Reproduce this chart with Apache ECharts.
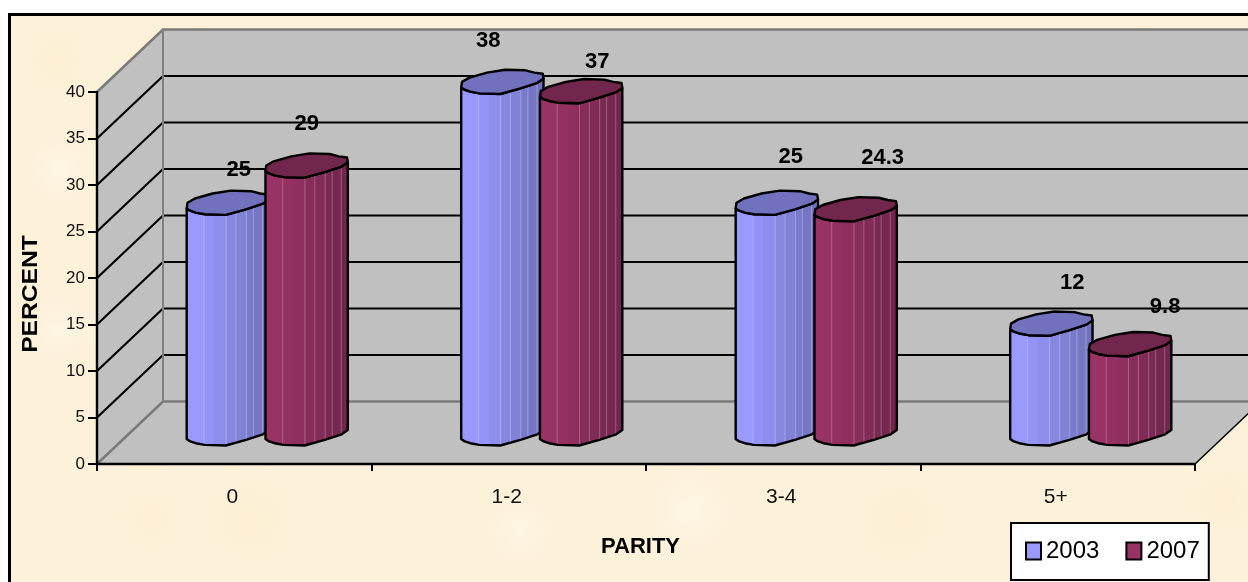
<!DOCTYPE html>
<html>
<head>
<meta charset="utf-8">
<style>html,body{margin:0;padding:0;background:#fff;overflow:hidden}#c{width:1248px;height:582px}</style>
<script src="https://cdn.jsdelivr.net/npm/echarts@6/dist/echarts.min.js"></script>
</head>
<body>
<div id="c"></div>
<script>
const categories = ['0', '1-2', '3-4', '5+'];
const seriesNames = ['2003', '2007'];
const values2003 = [25, 38, 25, 12];
const values2007 = [29, 37, 24.3, 9.8];
// Hand-placed data label nudges of the reference, relative to each cap centre
const labelNudge2003 = [[11, -33], [-14, -41], [14, -46], [21, -41]];
const labelNudge2007 = [[0, -42], [16, -29], [27, -51], [35, -37]];
const valueTicks = [0, 5, 10, 15, 20, 25, 30, 35, 40];
const FONT = '"Liberation Sans", Arial, sans-serif';
const DEPTH_X = 66, DEPTH_Y = -62.5;

// Cylinder cap outline, normalised to radius; clockwise from the left-most point
const capShape = [[-1, .46], [-.98, 0], [-.8, -.35], [-.37, -.76], [.07, -1], [.56, -.95], [.78, -.76], [.98, -.67],
  [1, -.27], [.85, .08], [.44, .54], [-.05, 1], [-.56, .95], [-.78, .81], [-.93, .63]];
const lowerIdx = [8, 9, 10, 11, 12, 13, 14, 0];
const facetEdges = [0, .21, .34, .48, .6, .725, .81, .92, 1];
const facetShade = [1, .965, .93, .885, .84, .80, .77, .74];
const sheenAt = [.21, .48, .6, .725, .81, .92];

const colors = [[153, 153, 255], [153, 51, 102]];
const rgb = (c, k) => `rgb(${Math.round(c[0] * k)},${Math.round(c[1] * k)},${Math.round(c[2] * k)})`;

function facetFill(base) {
  const stops = [];
  facetShade.forEach((k, i) => {
    stops.push({ offset: facetEdges[i], color: rgb(base, k) });
    stops.push({ offset: facetEdges[i + 1], color: rgb(base, k) });
  });
  return new echarts.graphic.LinearGradient(0, 0, 1, 0, stops);
}

function cylinderSeries(si, values, nudges) {
  return {
    name: seriesNames[si],
    type: 'custom',
    z: 5,
    clip: false,
    itemStyle: { color: rgb(colors[si], 1), borderColor: '#000', borderWidth: 2 },
    encode: { x: 0, y: 1 },
    data: values.map((v, i) => [i, v]),
    renderItem(params, api) {
      const cat = api.value(0), v = api.value(1);
      const band = api.size([1, 0])[0];
      const rx = band * 0.15, ry = rx * 0.295;
      const shift = (si === 0 ? -1 : 1) * band * 0.1435;
      const base = api.coord([cat, 0]);
      const top = api.coord([cat, v]);
      const cx = base[0] + DEPTH_X * 0.5 + shift;
      const by = base[1] + DEPTH_Y * 0.49;
      const ty = top[1] + DEPTH_Y * 0.46;
      const pts = (y, idx) => idx.map(i => [cx + capShape[i][0] * rx, y + capShape[i][1] * ry]);
      const lower = (y) => pts(y, lowerIdx);
      const body = lower(ty).concat(lower(by).reverse());
      const cap = pts(ty, capShape.map((_, i) => i));
      const lowerAt = (x, y) => {
        const p = lower(y);
        for (let i = 0; i < p.length - 1; i++) {
          const a = p[i], b = p[i + 1];
          if (x <= a[0] && x >= b[0]) return a[1] + (b[1] - a[1]) * (a[0] - x) / (a[0] - b[0] || 1);
        }
        return y;
      };
      const children = [{
        type: 'polygon', shape: { points: body },
        style: { fill: facetFill(colors[si]), stroke: '#000', lineWidth: 2.4, lineJoin: 'round' }
      }];
      sheenAt.forEach(f => {
        const x = cx - rx + 2 * rx * f;
        children.push({
          type: 'line',
          shape: { x1: x, y1: lowerAt(x, ty) + 1, x2: x, y2: lowerAt(x, by) - 1 },
          style: { stroke: 'rgba(255,255,255,0.25)', lineWidth: 1 }
        });
      });
      children.push({
        type: 'polygon', shape: { points: cap },
        style: { fill: rgb(colors[si], 0.74), stroke: '#000', lineWidth: 2.4, lineJoin: 'round' }
      });
      const n = nudges[cat];
      children.push({
        type: 'text', z2: 20,
        style: {
          text: String(v), x: cx + n[0], y: ty + n[1], align: 'center', verticalAlign: 'middle',
          font: 'bold 22px ' + FONT, fill: '#000'
        }
      });
      return { type: 'group', children };
    }
  };
}

const wallSeries = {
  type: 'custom',
  z: 1,
  silent: true,
  clip: false,
  legendHoverLink: false,
  data: [[0, 0]],
  encode: { x: 0, y: 1 },
  renderItem(params, api) {
    const cs = params.coordSys;
    const x0 = cs.x, x1 = cs.x + cs.width;
    const y0 = api.coord([0, 0])[1];
    const yT = api.coord([0, valueTicks[valueTicks.length - 1]])[1];
    const wall = '#C0C0C0', edge = '#808080';
    const children = [
      { type: 'polygon', shape: { points: [[x0 + DEPTH_X, yT + DEPTH_Y], [x1 + DEPTH_X, yT + DEPTH_Y], [x1 + DEPTH_X, y0 + DEPTH_Y], [x0 + DEPTH_X, y0 + DEPTH_Y]] }, style: { fill: wall } },
      { type: 'polygon', shape: { points: [[x0, y0], [x1, y0], [x1 + DEPTH_X, y0 + DEPTH_Y], [x0 + DEPTH_X, y0 + DEPTH_Y]] }, style: { fill: wall } },
      { type: 'polygon', shape: { points: [[x0, y0], [x0 + DEPTH_X, y0 + DEPTH_Y], [x0 + DEPTH_X, yT + DEPTH_Y], [x0, yT]] }, style: { fill: wall } }
    ];
    valueTicks.forEach(t => {
      const y = api.coord([0, t])[1];
      const limit = t === 0 || t === valueTicks[valueTicks.length - 1];
      children.push({
        type: 'polyline',
        shape: { points: [[x0, y], [x0 + DEPTH_X, y + DEPTH_Y], [x1 + DEPTH_X, y + DEPTH_Y]] },
        style: { stroke: limit ? '#7a7a7a' : '#000', lineWidth: limit ? 2.6 : 2.2, fill: 'none' }
      });
    });
    children.push({
      type: 'line', shape: { x1: x0 + DEPTH_X, y1: yT + DEPTH_Y, x2: x0 + DEPTH_X, y2: y0 + DEPTH_Y },
      style: { stroke: edge, lineWidth: 2 }
    });
    children.push({
      type: 'line', shape: { x1: x1, y1: y0, x2: x1 + DEPTH_X, y2: y0 + DEPTH_Y },
      style: { stroke: '#000', lineWidth: 1.5 }
    });
    return { type: 'group', children };
  }
};

// soft parchment mottling, kept inside the frame
const blotches = [
  [60, 170, 46, '#fff6e6'], [230, 60, 44, '#fef6e2'], [56, 60, 42, '#fcefd2'], [250, 520, 60, '#fcefd2'],
  [690, 510, 60, '#fef6e6'], [900, 520, 60, '#fcefd3'], [1225, 500, 50, '#fcefd2'],
  [1170, 60, 44, '#fef6e0'], [520, 530, 50, '#fef5e4'], [150, 520, 60, '#fdf0d6'], [56, 330, 44, '#fef5e4']
];
const graphics = [
  { type: 'rect', z: -20, shape: { x: 9.5, y: 14.5, width: 1300, height: 700 }, style: { fill: '#FDF1D9', stroke: '#000', lineWidth: 3 } }
];
blotches.forEach(b => graphics.push({
  type: 'circle', z: -19, shape: { cx: b[0], cy: b[1], r: b[2] },
  style: { fill: new echarts.graphic.RadialGradient(0.5, 0.5, 0.5, [{ offset: 0, color: b[3] }, { offset: 1, color: 'rgba(253,241,217,0)' }]) }
}));
graphics.push(
  { type: 'text', z: 50, rotation: Math.PI / 2, scaleX: 1.12, x: 31, y: 294, style: { text: 'PERCENT', font: 'bold 22px ' + FONT, fill: '#000', align: 'center', verticalAlign: 'middle' } },
  { type: 'text', z: 50, x: 640.5, y: 546.5, style: { text: 'PARITY', font: 'bold 22px ' + FONT, fill: '#000', align: 'center', verticalAlign: 'middle' } }
);

const chart = echarts.init(document.getElementById('c'), null, { renderer: 'canvas' });
chart.setOption({
  animation: false,
  backgroundColor: '#fff',
  graphic: graphics,
  grid: { left: 97, right: 53, top: 92, bottom: 118, containLabel: false },
  legend: {
    left: 1011, top: 523,
    data: seriesNames,
    icon: 'rect',
    itemWidth: 15, itemHeight: 17, itemGap: 26,
    padding: [16, 9, 17, 14],
    backgroundColor: '#fff', borderColor: '#000', borderWidth: 2, borderRadius: 0,
    selectedMode: false,
    itemStyle: { borderColor: '#000', borderWidth: 2 },
    textStyle: { fontFamily: FONT, fontSize: 24, color: '#000' }
  },
  xAxis: {
    type: 'category', data: categories, z: 3,
    axisLine: { lineStyle: { color: '#000', width: 2.4 } },
    axisTick: { show: true, length: 7, lineStyle: { color: '#000', width: 2 } },
    axisLabel: { fontFamily: FONT, fontSize: 21, color: '#111', margin: 23, padding: [0, 4, 0, 0] },
    splitLine: { show: false }
  },
  yAxis: {
    type: 'value', min: 0, max: 40, interval: 5, z: 3,
    axisLine: { show: true, lineStyle: { color: '#000', width: 2.4 } },
    axisTick: { show: true, length: 9, lineStyle: { color: '#000', width: 2 } },
    axisLabel: { fontFamily: FONT, fontSize: 17, color: '#111', margin: 12 },
    splitLine: { show: false }
  },
  series: [wallSeries, cylinderSeries(0, values2003, labelNudge2003), cylinderSeries(1, values2007, labelNudge2007)]
});
</script>
</body>
</html>
